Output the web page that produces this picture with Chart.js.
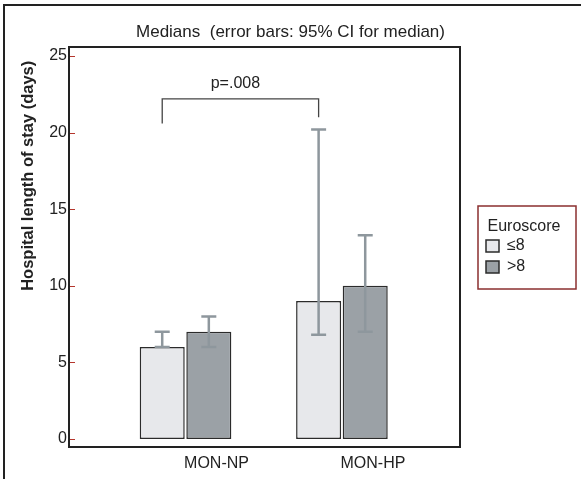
<!DOCTYPE html>
<html>
<head>
<meta charset="utf-8">
<title>Hospital length of stay - medians</title>
<script src="https://cdn.jsdelivr.net/npm/chart.js@4"></script>
<style>
  html, body { margin: 0; padding: 0; background: #fff; }
  #chart { display: block; }
</style>
</head>
<body>
<canvas id="chart" width="581" height="479"></canvas>
<script>
// Groups on the x axis
const categories = ['MON-NP', 'MON-HP'];

// Euroscore series (medians, days)
const seriesNames = ['\u22648', '>8'];
const mediansLow = [6, 9];     // Euroscore <= 8
const mediansHigh = [7, 10];   // Euroscore > 8

// 95% CI for the median
const ciLowerLow = [6, 6.8];
const ciUpperLow = [7, 20.2];
const ciLowerHigh = [6, 7];
const ciUpperHigh = [8, 13.3];

// y axis ticks
const yTicks = [0, 5, 10, 15, 20, 25];

// significance bracket between the <=8 bars
const bracketTop = 22.2;
const bracketLegEnds = [20.6, 21.0];
const bracketLabel = 'p=.008';
const bracketLabelY = 23.2;

const FONT = 'Arial, "Liberation Sans", sans-serif';
Chart.defaults.font.family = FONT;
Chart.defaults.color = '#222';

const toPoints = values => values.map((v, i) => ({ x: i + 1, y: v }));

const extras = {
    id: 'extras',

    // put the legend box to the right of the plot frame
    afterLayout(chart) {
        const lg = chart.legend;
        lg.left = 481;
        lg.top = 206;
        lg.width = 86;
        lg.height = 83;
        lg.right = lg.left + lg.width;
        lg.bottom = lg.top + lg.height;
    },

    afterDatasetsDraw(chart) {
        const ctx = chart.ctx;
        const y = chart.scales.y;
        const ci = [[ciLowerLow, ciUpperLow], [ciLowerHigh, ciUpperHigh]];

        ctx.save();
        ctx.strokeStyle = '#8e979d';
        ctx.lineWidth = 2.5;
        ci.forEach(([lo, hi], di) => {
            chart.getDatasetMeta(di).data.forEach((bar, i) => {
                const yl = y.getPixelForValue(lo[i]);
                const yh = y.getPixelForValue(hi[i]);
                const cap = 7.5;
                ctx.beginPath();
                ctx.moveTo(bar.x, yl);
                ctx.lineTo(bar.x, yh);
                ctx.moveTo(bar.x - cap, yh);
                ctx.lineTo(bar.x + cap, yh);
                ctx.moveTo(bar.x - cap, yl);
                ctx.lineTo(bar.x + cap, yl);
                ctx.stroke();
            });
        });
        ctx.restore();
    },

    afterDraw(chart) {
        const ctx = chart.ctx;
        const area = chart.chartArea;
        const y = chart.scales.y;

        ctx.save();

        // red tick marks just inside the y axis
        ctx.strokeStyle = '#b5362d';
        ctx.lineWidth = 1;
        ctx.beginPath();
        y.ticks.forEach(t => {
            const py = Math.round(y.getPixelForValue(t.value)) + 0.5;
            ctx.moveTo(area.left, py);
            ctx.lineTo(area.left + 6, py);
        });
        ctx.stroke();

        // plot frame
        ctx.strokeStyle = '#222';
        ctx.lineWidth = 2;
        ctx.strokeRect(area.left, area.top, area.right - area.left, area.bottom - area.top);

        // outer figure border (top and left only)
        ctx.beginPath();
        ctx.moveTo(4, chart.height);
        ctx.lineTo(4, 5);
        ctx.lineTo(chart.width, 5);
        ctx.stroke();

        // significance bracket
        const bars = chart.getDatasetMeta(0).data;
        const x1 = bars[0].x;
        const x2 = bars[1].x;
        const yt = y.getPixelForValue(bracketTop);
        ctx.strokeStyle = '#444';
        ctx.lineWidth = 1.3;
        ctx.beginPath();
        ctx.moveTo(x1, y.getPixelForValue(bracketLegEnds[0]));
        ctx.lineTo(x1, yt);
        ctx.lineTo(x2, yt);
        ctx.lineTo(x2, y.getPixelForValue(bracketLegEnds[1]));
        ctx.stroke();

        ctx.fillStyle = '#222';
        ctx.font = '16px ' + FONT;
        ctx.textAlign = 'center';
        ctx.textBaseline = 'middle';
        ctx.fillText(bracketLabel, (x1 + x2) / 2 - 5, y.getPixelForValue(bracketLabelY));

        // legend border
        const lg = chart.legend;
        ctx.strokeStyle = '#8b2f2f';
        ctx.lineWidth = 1.5;
        ctx.strokeRect(lg.left - 3, lg.top, chart.width - 5 - (lg.left - 3), lg.height);

        ctx.restore();
    }
};

new Chart(document.getElementById('chart'), {
    type: 'bar',
    data: {
        datasets: [{
            label: seriesNames[0],
            data: toPoints(mediansLow),
            backgroundColor: '#e7e8eb',
            borderColor: '#2b2b2b',
            borderWidth: 1.5,
            borderSkipped: false
        }, {
            label: seriesNames[1],
            data: toPoints(mediansHigh),
            backgroundColor: '#9ba1a6',
            borderColor: '#2b2b2b',
            borderWidth: 1.5,
            borderSkipped: false
        }]
    },
    options: {
        responsive: false,
        animation: false,
        events: [],
        categoryPercentage: 0.596,
        barPercentage: 0.966,
        layout: {
            padding: 0
        },
        plugins: {
            title: {
                display: true,
                text: 'Medians  (error bars: 95% CI for median)',
                color: '#222',
                font: { size: 17, weight: 'normal' },
                padding: { top: 21.8, bottom: 4.8 }
            },
            legend: {
                display: true,
                position: 'chartArea',
                align: 'start',
                title: {
                    display: true,
                    text: 'Euroscore',
                    position: 'center',
                    color: '#222',
                    font: { size: 16, lineHeight: 1 },
                    padding: { top: 13, bottom: -2 }
                },
                labels: {
                    boxWidth: 13,
                    boxHeight: 12,
                    padding: 5,
                    color: '#222',
                    font: { size: 16 }
                }
            },
            tooltip: { enabled: false }
        },
        scales: {
            x: {
                type: 'linear',
                offset: false,
                min: 0.255,
                max: 2.755,
                afterBuildTicks(scale) {
                    scale.ticks = categories.map((c, i) => ({ value: i + 1 }));
                },
                afterFit(scale) {
                    scale.height = 32;
                },
                grid: { display: false, drawTicks: false, offset: false },
                border: { display: false },
                ticks: {
                    padding: 7,
                    labelOffset: 31,
                    color: '#222',
                    font: { size: 16 },
                    callback: value => categories[value - 1]
                }
            },
            y: {
                min: -0.522,
                max: 25.587,
                afterBuildTicks(scale) {
                    scale.ticks = yTicks.map(v => ({ value: v }));
                },
                afterFit(scale) {
                    scale.width = 69;
                },
                grid: { display: false, drawTicks: false },
                border: { display: false },
                ticks: {
                    padding: 2,
                    color: '#222',
                    font: { size: 16 }
                },
                title: {
                    display: true,
                    text: 'Hospital length of stay (days)   ',
                    align: 'end',
                    color: '#222',
                    font: { size: 16.5, weight: 'bold' },
                    padding: { top: 19, bottom: 0 }
                }
            },
            // empty right-hand axis that keeps room for the legend
            side: {
                type: 'linear',
                position: 'right',
                display: true,
                afterFit(scale) {
                    scale.width = 121;
                },
                grid: { display: false, drawTicks: false },
                border: { display: false },
                ticks: { display: false }
            }
        }
    },
    plugins: [extras]
});
</script>
</body>
</html>
